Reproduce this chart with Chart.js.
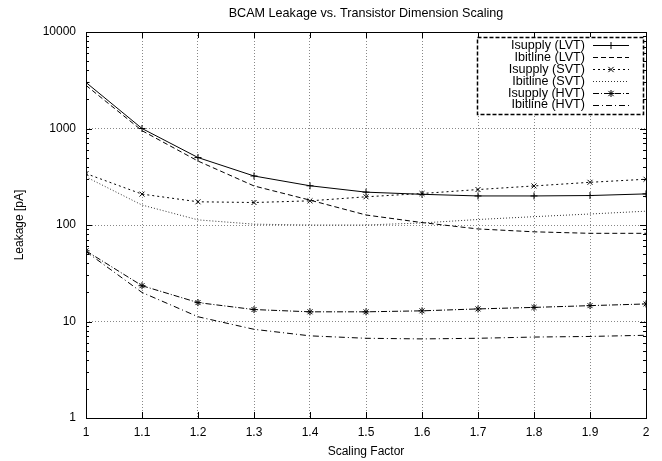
<!DOCTYPE html>
<html>
<head>
<meta charset="utf-8">
<script src="https://cdn.jsdelivr.net/npm/chart.js@4"></script>
<style>
  html, body { margin: 0; padding: 0; background: #fff; }
</style>
</head>
<body>
<canvas id="leakChart" width="662" height="461"></canvas>
<script>
// Data
const scaling = [1.0, 1.1, 1.2, 1.3, 1.4, 1.5, 1.6, 1.7, 1.8, 1.9, 2.0];

const isupplyLVT  = [3000, 1000, 500, 322, 255, 219, 208, 200, 200, 202, 210];
const ibitlineLVT = [2800, 950, 460, 254, 181, 127, 106, 91, 85, 82, 82];
const isupplySVT  = [341, 209, 174, 171, 178, 196, 212, 233, 254, 277, 298];
const ibitlineSVT = [315, 161, 113, 102, 100, 100, 105, 114, 122, 130, 139];
const isupplyHVT  = [54, 23.5, 15.7, 13.3, 12.6, 12.6, 12.9, 13.5, 14.0, 14.6, 15.2];
const ibitlineHVT = [53, 20, 11.2, 8.3, 7.1, 6.7, 6.6, 6.7, 6.9, 7.0, 7.2];

const yDecades = [1, 10, 100, 1000, 10000];

const FONT = 'Liberation Sans, Arial, Helvetica, sans-serif';

function pts(vals) {
    return scaling.map((x, i) => ({ x: x, y: vals[i] }));
}

function series(label, vals, dash, style, color) {
    return {
        label: label,
        data: pts(vals),
        borderColor: color || '#000',
        backgroundColor: color || '#000',
        borderWidth: 1,
        borderDash: dash,
        tension: 0,
        fill: false,
        pointStyle: style || false,
        pointRadius: style ? 3.5 : 0,
        pointBorderColor: '#000',
        pointBorderWidth: 1
    };
}

const datasets = [
    series('Isupply (LVT)',  isupplyLVT,  [],           'cross'),
    series('Ibitline (LVT)', ibitlineLVT, [5, 3]),
    series('Isupply (SVT)',  isupplySVT,  [2, 3],       'crossRot'),
    series('Ibitline (SVT)', ibitlineSVT, [1, 2],       null, '#333'),
    series('Isupply (HVT)',  isupplyHVT,  [6, 2, 1, 2], 'star'),
    series('Ibitline (HVT)', ibitlineHVT, [6, 3, 1, 3])
];

function drawMarker(ctx, style, x, y, r) {
    ctx.beginPath();
    if (style === 'cross' || style === 'star') {
        ctx.moveTo(x - r, y); ctx.lineTo(x + r, y);
        ctx.moveTo(x, y - r); ctx.lineTo(x, y + r);
    }
    if (style === 'crossRot' || style === 'star') {
        const d = r * 0.75;
        ctx.moveTo(x - d, y - d); ctx.lineTo(x + d, y + d);
        ctx.moveTo(x - d, y + d); ctx.lineTo(x + d, y - d);
    }
    ctx.stroke();
}

// gnuplot-like frame, inward tick marks and boxed legend
const framePlugin = {
    id: 'frame',
    afterDraw(chart) {
        const ctx = chart.ctx;
        const a = chart.chartArea;
        const xs = chart.scales.x, ys = chart.scales.y;
        ctx.save();
        ctx.strokeStyle = '#000';
        ctx.lineWidth = 1;
        ctx.setLineDash([]);
        ctx.strokeRect(Math.round(a.left) + 0.5, Math.round(a.top) + 0.5,
                       Math.round(a.right - a.left), Math.round(a.bottom - a.top));

        ctx.beginPath();
        // x major ticks (top and bottom)
        scaling.forEach(v => {
            const px = Math.round(xs.getPixelForValue(v)) + 0.5;
            ctx.moveTo(px, a.bottom); ctx.lineTo(px, a.bottom - 6);
            ctx.moveTo(px, a.top); ctx.lineTo(px, a.top + 6);
        });
        // y major + minor ticks (left and right)
        for (let d = 1; d < 10000; d *= 10) {
            for (let m = 1; m <= 9; m++) {
                const len = m === 1 ? 6 : 3;
                const py = Math.round(ys.getPixelForValue(d * m)) + 0.5;
                ctx.moveTo(a.left, py); ctx.lineTo(a.left + len, py);
                ctx.moveTo(a.right, py); ctx.lineTo(a.right - len, py);
            }
        }
        ctx.stroke();

        // legend box
        const bx = 477, by = 37, bw = 166, bh = 77;
        ctx.fillStyle = '#fff';
        ctx.fillRect(bx, by, bw, bh);
        ctx.setLineDash([4, 2]);
        ctx.lineWidth = 1.5;
        ctx.strokeRect(bx + 0.5, by + 0.5, bw, bh);

        ctx.font = '12.6px ' + FONT;
        ctx.textAlign = 'right';
        ctx.textBaseline = 'middle';
        ctx.lineWidth = 1;
        chart.data.datasets.forEach((ds, i) => {
            const y = by + 8 + i * 11.9;
            ctx.fillStyle = '#000';
            ctx.fillText(ds.label, 585, y + 0.5);
            ctx.strokeStyle = ds.borderColor;
            ctx.setLineDash(ds.borderDash);
            ctx.beginPath();
            ctx.moveTo(593, Math.round(y) + 0.5);
            ctx.lineTo(629, Math.round(y) + 0.5);
            ctx.stroke();
            ctx.setLineDash([]);
            ctx.strokeStyle = '#000';
            if (ds.pointStyle) drawMarker(ctx, ds.pointStyle, 611, Math.round(y) + 0.5, 3.5);
        });
        ctx.restore();
    }
};

const leakChart = new Chart(document.getElementById('leakChart'), {
    type: 'line',
    data: { datasets: datasets },
    options: {
        responsive: false,
        animation: false,
        layout: { padding: { left: 0, right: 16, top: 0, bottom: 0 } },
        scales: {
            x: {
                type: 'linear',
                min: 1,
                max: 2,
                afterFit: (s) => { s.height = 43; },
                ticks: {
                    stepSize: 0.1,
                    padding: 7,
                    color: '#000',
                    font: { family: FONT, size: 12 },
                    maxRotation: 0,
                    callback: (v) => String(Number(v.toFixed(1)))
                },
                grid: { color: '#888', lineWidth: 1, drawTicks: false },
                border: { display: false, dash: [1, 2] },
                title: {
                    display: true,
                    text: 'Scaling Factor',
                    color: '#000',
                    font: { family: FONT, size: 12 },
                    padding: { top: 0, bottom: 2 }
                }
            },
            // top axis only carries the plot title, centred over the plot area
            xTop: {
                type: 'linear',
                position: 'top',
                min: 1,
                max: 2,
                afterFit: (s) => { s.height = 32; },
                ticks: { display: false },
                grid: { display: false, drawTicks: false },
                border: { display: false },
                title: {
                    display: true,
                    text: 'BCAM Leakage vs. Transistor Dimension Scaling',
                    color: '#000',
                    font: { family: FONT, size: 12.6 },
                    padding: { top: 5.5, bottom: 0 }
                }
            },
            y: {
                type: 'logarithmic',
                min: 1,
                max: 10000,
                afterFit: (s) => { s.width = 86; },
                afterBuildTicks: (s) => { s.ticks = yDecades.map(v => ({ value: v })); },
                ticks: {
                    padding: 10,
                    color: '#000',
                    font: { family: FONT, size: 12 },
                    callback: (v) => String(v)
                },
                grid: { color: '#888', lineWidth: 1, drawTicks: false },
                border: { display: false, dash: [1, 2] },
                title: {
                    display: true,
                    text: 'Leakage [pA]',
                    color: '#000',
                    font: { family: FONT, size: 12 },
                    padding: { top: 12, bottom: 0 }
                }
            }
        },
        plugins: {
            legend: { display: false },
            tooltip: { enabled: false },
            title: { display: false }
        }
    },
    plugins: [framePlugin]
});
</script>
</body>
</html>
